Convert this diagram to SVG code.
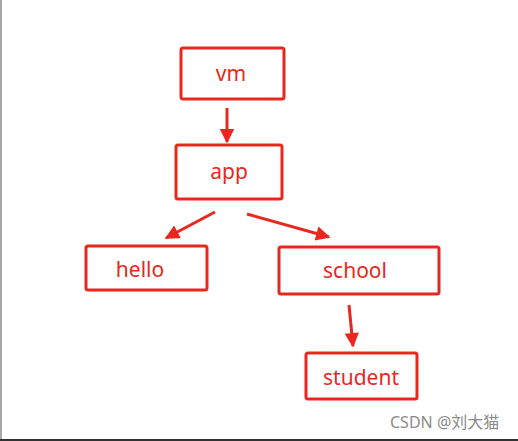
<svg xmlns="http://www.w3.org/2000/svg" width="518" height="441" viewBox="0 0 518 441">
<style>
.box{fill:none;stroke:#e8281e;stroke-width:3;}
.lbl{fill:#e8281e;font-family:"Noto Sans","Open Sans",sans-serif;font-size:21px;text-anchor:middle;}
.conn{stroke:#e8281e;stroke-width:3;fill:none;}
.wm{fill:#8a8a8a;font-family:"Noto Sans","Noto Sans CJK SC",sans-serif;font-size:16px;}
</style>
<defs>
<marker id="ah" viewBox="0 0 10 10" refX="9" refY="5" markerWidth="6" markerHeight="4.8" orient="auto" markerUnits="strokeWidth">
<path d="M0,0 L10,5 L0,10 Z" fill="#e8281e"/>
</marker>
</defs>
<rect x="0" y="0" width="518" height="441" fill="#ffffff"/>
<rect x="0" y="0" width="2" height="441" fill="#a8a8a8"/>
<rect x="0" y="439" width="518" height="2" fill="#333333"/>
<g id="connectors">
<line class="conn" x1="227" y1="108" x2="227" y2="142" marker-end="url(#ah)"/>
<line class="conn" x1="215" y1="212" x2="166" y2="238" marker-end="url(#ah)"/>
<line class="conn" x1="247" y1="214" x2="329" y2="237" marker-end="url(#ah)"/>
<line class="conn" x1="349" y1="305" x2="353" y2="346" marker-end="url(#ah)"/>
</g>
<g id="vm"><rect class="box" x="181" y="48" width="103" height="51" rx="2"/><text class="lbl" x="231" y="81">vm</text></g>
<g id="app"><rect class="box" x="176" y="145" width="106" height="54" rx="2"/><text class="lbl" x="229" y="179">app</text></g>
<g id="hello"><rect class="box" x="86" y="246" width="121" height="44" rx="2"/><text class="lbl" x="140" y="277">hello</text></g>
<g id="school"><rect class="box" x="279" y="247" width="160" height="47" rx="2"/><text class="lbl" x="355" y="278">school</text></g>
<g id="student"><rect class="box" x="306" y="353" width="111" height="46" rx="2"/><text class="lbl" x="361" y="385">student</text></g>
<text class="wm" x="390" y="428">CSDN @刘大猫</text>
</svg>
